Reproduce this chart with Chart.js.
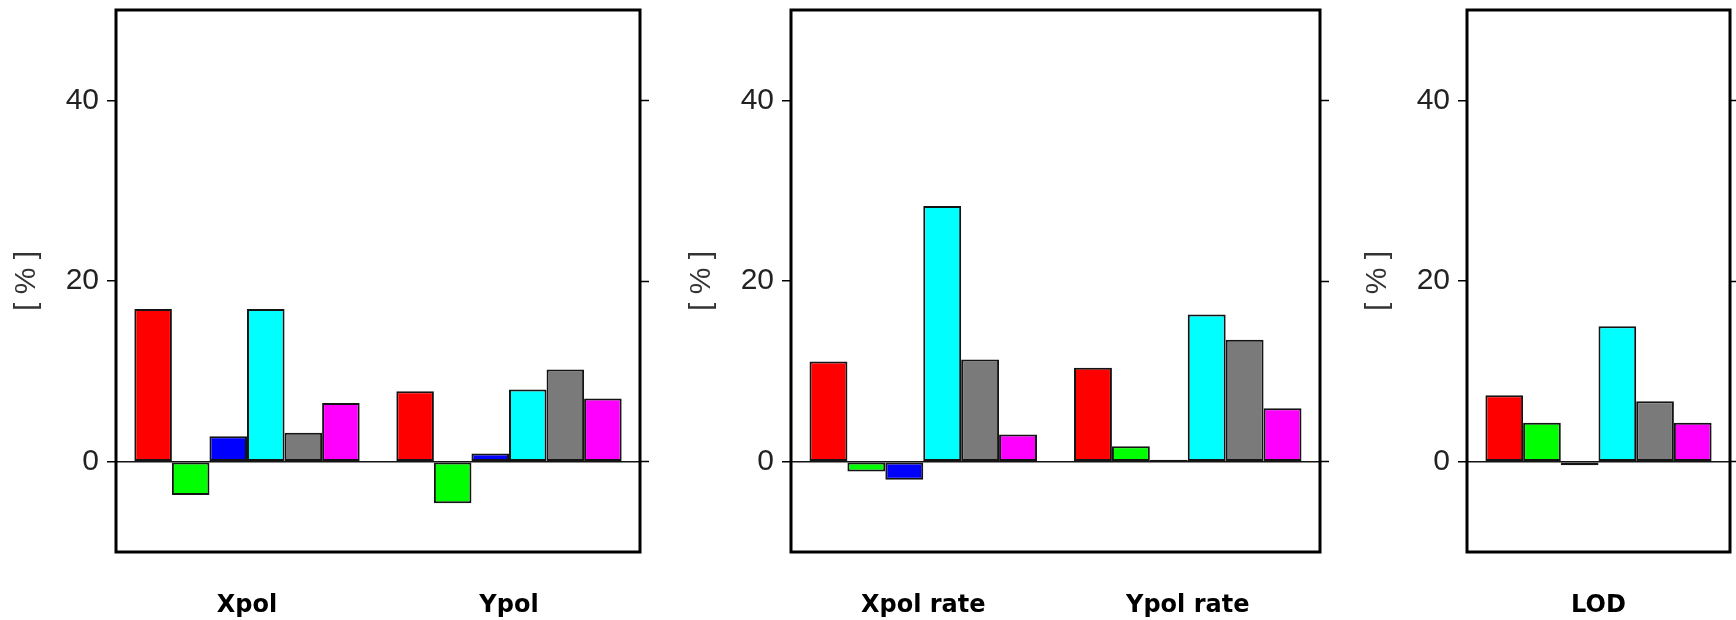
<!DOCTYPE html>
<html>
<head>
<meta charset="utf-8">
<title>Pole and LOD contributions</title>
<script src="https://cdn.jsdelivr.net/npm/chart.js@4.4.1/dist/chart.umd.min.js"></script>
<style>
  html, body { margin: 0; padding: 0; background: #ffffff; }
  body { width: 1736px; height: 620px; position: relative; overflow: hidden; }
  canvas { position: absolute; top: 0; }
</style>
</head>
<body>
<canvas id="polChart" width="660" height="620" style="left:0px"></canvas>
<canvas id="rateChart" width="665" height="620" style="left:675px"></canvas>
<canvas id="lodChart" width="385" height="620" style="left:1351px"></canvas>
<script>
// Category names of each panel
const polCategories = ['Xpol', 'Ypol'];
const rateCategories = ['Xpol rate', 'Ypol rate'];
const lodCategories = ['LOD'];

// Percent values, one entry per coloured series (red, green, blue, cyan, grey, magenta)
const xpol = [16.9, -3.7, 2.8, 16.9, 3.2, 6.5];
const ypol = [7.8, -4.6, 0.9, 8.0, 10.2, 7.0];
const xpolRate = [11.1, -1.1, -2.0, 28.3, 11.3, 3.0];
const ypolRate = [10.4, 1.7, 0.2, 16.3, 13.5, 5.9];
const lod = [7.35, 4.3, -0.4, 15.0, 6.7, 4.3];

// Value axis
const yMin = -10;
const yMax = 50;
const yTicks = [0, 20, 40];

const seriesColors = ['#ff0000', '#00ff00', '#0000ff', '#00ffff', '#7a7a7a', '#ff00ff'];

Chart.defaults.devicePixelRatio = 1;

// Thick black frame around the plotting area
const framePlugin = {
  id: 'frame',
  afterDraw(chart) {
    const { ctx, chartArea: a } = chart;
    ctx.save();
    ctx.strokeStyle = '#000000';
    ctx.lineWidth = 3;
    ctx.strokeRect(a.left, a.top, a.right - a.left, a.bottom - a.top);
    ctx.restore();
  }
};

function setTicks(scale) {
  scale.ticks = yTicks.map(v => ({ value: v }));
}

function fitWidth(width) {
  return scale => {
    scale.width = width;
    scale.paddingTop = 0;
    scale.paddingBottom = 0;
  };
}

function buildPanel(canvasId, categories, groups, rightGap) {
  const datasets = seriesColors.map((color, i) => ({
    data: groups.map(g => g[i]),
    backgroundColor: color,
    borderColor: '#141414',
    borderWidth: 2,
    borderSkipped: false,
    barPercentage: 1.0,
    categoryPercentage: 0.86
  }));

  return new Chart(document.getElementById(canvasId), {
    type: 'bar',
    data: { labels: categories, datasets },
    plugins: [framePlugin],
    options: {
      responsive: false,
      animation: false,
      layout: { padding: { top: 10, left: 0, right: 0, bottom: 0 } },
      plugins: {
        legend: { display: false },
        tooltip: { enabled: false }
      },
      scales: {
        x: {
          type: 'category',
          position: 'bottom',
          grid: { display: false, drawTicks: false },
          border: { display: false },
          ticks: {
            color: '#000000',
            font: { family: 'DejaVu Sans', weight: 'bold', size: 24 },
            padding: 39,
            maxRotation: 0,
            autoSkip: false
          },
          afterFit(scale) {
            scale.height = 68;
            scale.paddingLeft = 0;
            scale.paddingRight = 0;
          }
        },
        y: {
          position: 'left',
          min: yMin,
          max: yMax,
          afterBuildTicks: setTicks,
          grid: {
            drawOnChartArea: true,
            color: ctx => (ctx.tick && ctx.tick.value === 0) ? '#141414' : 'rgba(0,0,0,0)',
            lineWidth: 1.5,
            drawTicks: true,
            tickLength: 9,
            tickColor: '#000000',
            tickWidth: 1.5
          },
          border: { display: false },
          ticks: {
            color: '#222222',
            font: { family: 'Liberation Sans', size: 30 },
            padding: 8
          },
          title: {
            display: true,
            text: '[ % ]',
            color: '#333333',
            font: { family: 'Liberation Sans', size: 30 },
            padding: { top: 9, bottom: 0 }
          },
          afterFit: fitWidth(116)
        },
        yRight: {
          position: 'right',
          display: true,
          min: yMin,
          max: yMax,
          afterBuildTicks: setTicks,
          grid: {
            drawOnChartArea: false,
            drawTicks: true,
            tickLength: 9,
            color: '#000000',
            tickColor: '#000000',
            tickWidth: 1.5
          },
          border: { display: false },
          ticks: { display: false },
          afterFit: fitWidth(rightGap)
        }
      }
    }
  });
}

buildPanel('polChart', polCategories, [xpol, ypol], 20);
buildPanel('rateChart', rateCategories, [xpolRate, ypolRate], 20);
buildPanel('lodChart', lodCategories, [lod], 6);
</script>
</body>
</html>
